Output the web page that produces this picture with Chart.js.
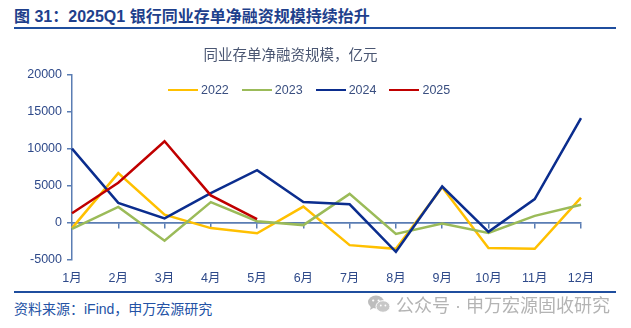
<!DOCTYPE html>
<html lang="zh-CN">
<head>
<meta charset="utf-8">
<title>2025Q1 银行同业存单净融资规模持续抬升</title>
<script src="https://cdn.jsdelivr.net/npm/chart.js@4.4.1/dist/chart.umd.min.js"></script>
<style>
  html, body { margin: 0; padding: 0; background: #ffffff; }
  body { width: 631px; height: 328px; position: relative; overflow: hidden;
         font-family: "Liberation Sans", "Noto Sans CJK SC", sans-serif; }
  .heading { position: absolute; left: 14px; top: 7px; width: 602px; height: 20px;
             border-bottom: 2px solid #1f4e9e; font-weight: bold; font-size: 16px;
             line-height: 20px; color: #1e3f8c; white-space: nowrap; }
  .chart-box { position: absolute; left: 0; top: 40px; width: 612px; height: 257px; }
  .legend { position: absolute; left: 168px; top: 82px; height: 16px; display: flex;
            align-items: center; gap: 13px; z-index: 2; }
  .legend-item { display: flex; align-items: center; font-size: 12.5px; color: #3a4f80; }
  .legend-swatch { width: 30px; height: 2.5px; margin-right: 3px; }
  .footer-rule { position: absolute; left: 14px; top: 291px; width: 602px; height: 0;
                 border-top: 2px solid #1f4e9e; z-index: 2; }
  .source { position: absolute; left: 14px; top: 299px; font-size: 14px; line-height: 20px;
            color: #2352a5; white-space: nowrap; z-index: 2; }
  .mark { position: absolute; left: 368px; top: 293px; height: 22px; display: flex;
          align-items: center; color: #b4b4b4; font-size: 18px; white-space: nowrap; z-index: 2; }
  .mark svg { margin-right: 6px; }
</style>
</head>
<body>
<div class="heading">图 31：2025Q1 银行同业存单净融资规模持续抬升</div>
<div class="chart-box"><canvas id="chart" width="612" height="257"></canvas></div>
<div class="legend" id="legend"></div>
<div class="footer-rule"></div>
<div class="source">资料来源：iFind，申万宏源研究</div>
<div class="mark">
  <svg width="22" height="18" viewBox="0 0 22 18">
    <ellipse cx="8" cy="7" rx="8" ry="6.5" fill="#bdbdbd"/>
    <path d="M3 11 L2 15 L7 12 Z" fill="#bdbdbd"/>
    <ellipse cx="15" cy="11.5" rx="7" ry="5.8" fill="#c8c8c8" stroke="#fff" stroke-width="1"/>
    <circle cx="5.2" cy="5.5" r="1.1" fill="#fff"/>
    <circle cx="10.6" cy="5.5" r="1.1" fill="#fff"/>
    <circle cx="12.8" cy="10.5" r="0.9" fill="#fff"/>
    <circle cx="17.4" cy="10.5" r="0.9" fill="#fff"/>
  </svg>
  <span>公众号 · 申万宏源固收研究</span>
</div>

<script>
// Monthly net financing of interbank NCDs (亿元)
const months = ['1月', '2月', '3月', '4月', '5月', '6月', '7月', '8月', '9月', '10月', '11月', '12月'];
const seriesNames = ['2022', '2023', '2024', '2025'];
const values2022 = [-700, 6700, 1100, -700, -1400, 2200, -3000, -3500, 4800, -3400, -3500, 3400];
const values2023 = [-800, 2150, -2400, 2800, 230, -300, 3900, -1500, -100, -1350, 950, 2450];
const values2024 = [10000, 2700, 600, 4000, 7100, 2800, 2500, -3900, 4900, -1200, 3200, 14100];
const values2025 = [1300, 5400, 11000, 3700, 500];
const yTicks = { min: -5000, max: 20000, step: 5000 };

const lineColors = ['#ffc000', '#9bbb59', '#0b2d8e', '#c00000'];
const axisColor = '#5a7db3';
const tickColor = '#2f4a8a';
const latin = '"Liberation Sans", "Noto Sans CJK SC", sans-serif';

const seriesValues = [values2022, values2023, values2024, values2025];
const datasets = seriesNames.map((name, i) => ({
  label: name,
  data: seriesValues[i],
  borderColor: lineColors[i],
  backgroundColor: lineColors[i],
  borderWidth: 2.5,
  pointRadius: 0,
  pointHoverRadius: 0,
  tension: 0,
  fill: false,
  order: seriesNames.length - i   // later years are drawn on top
}));

// Legend rendered as HTML inside the plot, built from the chart's datasets.
const htmlLegend = {
  id: 'htmlLegend',
  afterUpdate(chart, args, opts) {
    const box = document.getElementById(opts.containerID);
    box.innerHTML = '';
    chart.data.datasets.forEach((ds) => {
      const item = document.createElement('div');
      item.className = 'legend-item';
      const sw = document.createElement('span');
      sw.className = 'legend-swatch';
      sw.style.background = ds.borderColor;
      const tx = document.createElement('span');
      tx.textContent = ds.label;
      item.appendChild(sw);
      item.appendChild(tx);
      box.appendChild(item);
    });
  }
};

new Chart(document.getElementById('chart'), {
  type: 'line',
  data: { labels: months, datasets },
  plugins: [htmlLegend],
  options: {
    responsive: false,
    animation: false,
    events: [],
    layout: { padding: { left: 0, right: 31, top: 0, bottom: 0 } },
    plugins: {
      htmlLegend: { containerID: 'legend' },
      legend: { display: false },
      title: {
        display: true,
        text: '同业存单净融资规模，亿元',
        color: '#4a5672',
        font: { family: '"Noto Sans CJK SC", sans-serif', size: 14.5, weight: 'normal' },
        padding: { top: 6, bottom: 11 }
      },
      tooltip: { enabled: false }
    },
    scales: {
      // month labels along the bottom edge
      x: {
        type: 'category',
        position: 'bottom',
        offset: false,
        grid: { display: false, drawTicks: false },
        border: { display: false },
        ticks: {
          color: tickColor,
          padding: 11,
          maxRotation: 0,
          autoSkip: false,
          font: { family: latin, size: 12.5 }
        }
      },
      // horizontal axis line with tick marks, crossing at y = 0
      zeroAxis: {
        type: 'category',
        axis: 'x',
        labels: months,
        position: { y: 0 },
        offset: false,
        grid: { drawOnChartArea: false, drawTicks: true, tickLength: 5, color: axisColor, lineWidth: 1.5 },
        border: { display: true, color: axisColor, width: 1.5 },
        ticks: { display: false }
      },
      y: {
        type: 'linear',
        position: 'left',
        min: yTicks.min,
        max: yTicks.max,
        afterFit(scale) { scale.width = 72; },
        grid: {
          drawOnChartArea: true,
          drawTicks: true,
          tickLength: 5,
          lineWidth: 1.5,
          tickColor: axisColor,
          color: (ctx) => (ctx.tick && ctx.tick.value === 0 ? axisColor : 'rgba(0,0,0,0)')
        },
        border: { display: true, color: axisColor, width: 1.5 },
        ticks: {
          stepSize: yTicks.step,
          color: tickColor,
          padding: 5,
          font: { family: latin, size: 12.5 },
          callback: (v) => String(v)
        }
      }
    }
  }
});
</script>
</body>
</html>
